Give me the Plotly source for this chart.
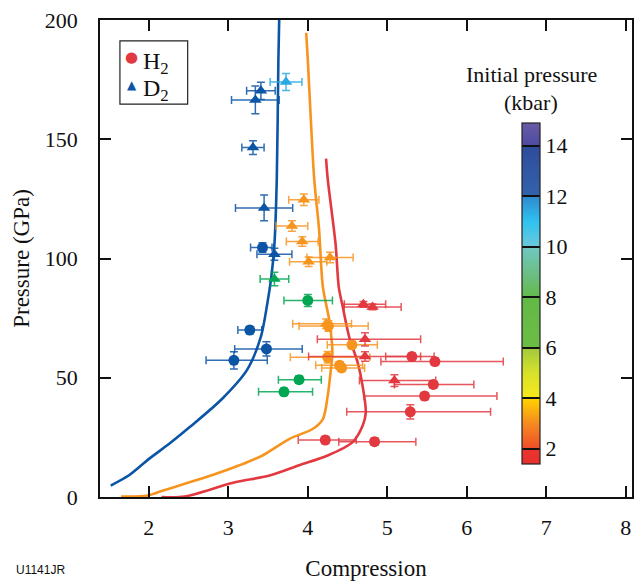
import plotly.graph_objects as go

# ---- model curves (compression vs pressure) ----
d2_curve_x = [1.52, 1.75, 2.01, 2.26, 2.51, 2.92, 3.24, 3.41, 3.49, 3.54, 3.58, 3.61, 3.63, 3.64]
d2_curve_p = [4.8, 9.1, 16.2, 22.4, 29.2, 41.1, 53.5, 67.2, 81.0, 92.1, 105.9, 133.6, 183.4, 200.0]

orange_curve_x = [1.65, 1.97, 2.18, 2.79, 3.14, 3.43, 3.77, 4.06, 4.19, 4.25, 4.29, 4.31, 4.27, 4.19, 4.14, 4.08, 4.00, 3.98]
orange_curve_p = [0.2, 0.5, 2.7, 9.1, 13.3, 17.4, 24.4, 28.5, 32.7, 42.3, 53.4, 60.3, 74.1, 88.0, 112.9, 133.6, 183.4, 194.6]

red_curve_x = [2.16, 2.45, 3.06, 3.53, 3.89, 4.25, 4.56, 4.69, 4.73, 4.69, 4.63, 4.52, 4.44, 4.39, 4.35, 4.25, 4.23]
red_curve_p = [0.0, 0.2, 6.0, 9.1, 13.3, 17.4, 22.9, 29.9, 35.4, 46.5, 56.1, 67.2, 79.7, 88.0, 105.9, 133.6, 141.9]

# ---- shock data ----
isotope = (["H2"] * 7 + ["H2"] * 5 + ["H2"] * 3 + ["H2"] * 4
           + ["D2"] * 5 + ["D2"] * 6 + ["D2"] * 1 + ["D2"] * 5 + ["D2"] * 1)
init_pressure = ([1.6] * 7 + [3] * 5 + [7] * 3 + [13] * 4
                 + [1.6] * 5 + [3] * 6 + [7] * 1 + [13] * 5 + [11] * 1)
compression = [5.31, 5.60, 5.58, 5.47, 5.29, 4.22, 4.84,
               4.26, 4.555, 4.25, 4.40, 4.425,
               4.00, 3.89, 3.70,
               3.43, 3.27, 3.48, 3.07,
               4.70, 4.815, 4.72, 4.72, 5.09,
               3.95, 3.80, 3.93, 4.28, 4.01, 4.23,
               3.58,
               3.41, 3.34, 3.31, 3.45, 3.58,
               3.726]
pressure = [58.9, 56.8, 47.2, 42.3, 35.7, 23.9, 23.2,
            71.7, 63.8, 58.6, 55.2, 54.1,
            82.4, 49.2, 44.1,
            104.6, 70.0, 62.1, 57.3,
            80.8, 79.7, 66.1, 58.9, 48.8,
            124.6, 113.6, 107.1, 100.4, 98.6, 72.6,
            91.4,
            170.3, 166.5, 146.5, 121.2, 101.8,
            174.0]
comp_err_lo = [0.33, 0.68, 0.49, 0.76, 0.80, 0.34, 0.45,
               0.37, 0.31, 0.47, 0.30, 0.25,
               0.30, 0.26, 0.32,
               0.15, 0.15, 0.40, 0.35,
               0.24, 0.36, 0.60, 0.71, 0.44,
               0.19, 0.20, 0.20, 0.29, 0.24, 0.42,
               0.18,
               0.18, 0.30, 0.14, 0.36, 0.22,
               0.20]
comp_err_hi = [0.28, 0.86, 0.51, 0.91, 1.01, 0.39, 0.52,
               0.50, 0.32, 0.53, 0.29, 0.29,
               0.31, 0.28, 0.36,
               0.12, 0.15, 0.45, 0.42,
               0.28, 0.36, 0.70, 0.70, 0.52,
               0.19, 0.20, 0.20, 0.29, 0.23, 0.32,
               0.18,
               0.18, 0.30, 0.14, 0.36, 0.22,
               0.20]
press_err = [1.5, 1.5, 1.5, 1.5, 3.0, 1.5, 1.5,
             2.2, 1.5, 2.4, 1.5, 1.5,
             2.5, 1.5, 1.5,
             2.0, 1.5, 3.0, 3.6,
             1.2, 1.2, 2.8, 2.0, 2.5,
             2.4, 2.2, 2.0, 2.2, 2.0, 2.0,
             2.8,
             3.6, 5.8, 2.9, 5.4, 2.5,
             3.6]

# marker colour for each initial-pressure group
group_colors = {1.6: (226, 56, 63), 3: (247, 148, 30), 7: (0, 166, 81),
                11: (40, 169, 225), 13: (12, 84, 164)}
symbols = {"H2": "circle", "D2": "triangle-up"}

# colour bar scale (kbar)
cbar_min, cbar_max = 1.4, 14.9
cbar_stops = [(1.4, "#e8302e"), (2.0, "#ea352d"), (2.02, "#ef4d28"), (3.0, "#f68a20"),
              (3.95, "#ffd000"), (4.02, "#f8e81c"), (5.0, "#d6e22a"), (5.98, "#a3c93c"),
              (6.05, "#6cbd45"), (8.0, "#62b946"), (8.05, "#64ba50"), (9.0, "#6cbf88"),
              (9.98, "#6fc7c2"), (10.05, "#68c9dc"), (11.0, "#2fc2ef"), (11.98, "#2f8ad0"),
              (12.05, "#3262ab"), (13.98, "#2f4c9c"), (14.05, "#4e4ca0"), (14.9, "#6a5aa8")]
cbar_ticks = [2, 4, 6, 8, 10, 12, 14]

SERIF = "Liberation Serif, Times New Roman, serif"

# plot-area geometry in pixels, used to place the key and colour-bar title
PL, PR, PT, PB = 100, 634, 20, 502


def px_x(px):
    return (px - PL) / (PR - PL)


def px_y(py):
    return (PB - py) / (PB - PT)


fig = go.Figure()

for cx, cp, col in [(d2_curve_x, d2_curve_p, "#0b55a6"),
                    (orange_curve_x, orange_curve_p, "#f7941d"),
                    (red_curve_x, red_curve_p, "#e2383f")]:
    fig.add_trace(go.Scatter(x=cx, y=cp, mode="lines", showlegend=False,
                             line=dict(color=col, width=2.6, shape="spline", smoothing=0.8),
                             hoverinfo="skip"))

for iso in ["H2", "D2"]:
    for p0 in [1.6, 3, 7, 13, 11]:
        idx = [i for i in range(len(isotope)) if isotope[i] == iso and init_pressure[i] == p0]
        if not idx:
            continue
        r, g, b = group_colors[p0]
        bar_col = f"rgba({r},{g},{b},0.85)"
        fig.add_trace(go.Scatter(
            x=[compression[i] for i in idx],
            y=[pressure[i] for i in idx],
            mode="markers", showlegend=False,
            marker=dict(symbol=symbols[iso], size=11, color=f"rgb({r},{g},{b})"),
            error_x=dict(type="data", symmetric=False,
                         array=[comp_err_hi[i] for i in idx],
                         arrayminus=[comp_err_lo[i] for i in idx],
                         color=bar_col, thickness=1.5, width=4),
            error_y=dict(type="data", array=[press_err[i] for i in idx],
                         color=bar_col, thickness=1.5, width=4),
        ))

# colour bar for the initial pressure
colorscale = [[(v - cbar_min) / (cbar_max - cbar_min), c] for v, c in cbar_stops]
fig.add_trace(go.Scatter(
    x=[None], y=[None], mode="markers", showlegend=False, hoverinfo="skip",
    marker=dict(color=[8], colorscale=colorscale, cmin=cbar_min, cmax=cbar_max,
                showscale=True,
                colorbar=dict(x=0.794, xanchor="left", xref="paper", xpad=0,
                              y=0.427, yanchor="middle", ypad=0,
                              len=0.714, lenmode="fraction",
                              thickness=18, thicknessmode="pixels",
                              outlinewidth=1.2, outlinecolor="#222",
                              tickvals=cbar_ticks, ticks="inside", ticklen=18,
                              tickwidth=1.5, tickcolor="#111",
                              tickfont=dict(family=SERIF, size=22, color="#111")))))

axis_common = dict(showgrid=False, zeroline=False, showline=True, linecolor="#111",
                   linewidth=1.5, mirror="ticks", ticks="inside", ticklen=11,
                   tickwidth=1.5, tickcolor="#111",
                   tickfont=dict(family=SERIF, size=22, color="#111"))

annotations = [
    # colour-bar title
    dict(text="Initial pressure", x=px_x(533), y=px_y(75)),
    dict(text="(kbar)", x=px_x(533), y=px_y(103)),
    # key: symbols and labels
    dict(text="●", x=px_x(132), y=px_y(57), font=dict(family="DejaVu Sans", size=15, color="#e2383f")),
    dict(text="▲", x=px_x(132), y=px_y(86), font=dict(family="DejaVu Sans", size=12, color="#0b55a6")),
    dict(text="H<sub>2</sub>", x=px_x(141), y=px_y(63), xanchor="left",
         font=dict(family=SERIF, size=24, color="#111")),
    dict(text="D<sub>2</sub>", x=px_x(141), y=px_y(91), xanchor="left",
         font=dict(family=SERIF, size=24, color="#111")),
]
for a in annotations:
    a.setdefault("xanchor", "center")
    a.setdefault("yanchor", "middle")
    a.setdefault("font", dict(family=SERIF, size=22, color="#111"))
    a.update(xref="paper", yref="paper", showarrow=False)

annotations.append(dict(text="U1141JR", x=px_x(14), y=px_y(567), xref="paper", yref="paper",
                        xanchor="left", yanchor="top", showarrow=False,
                        font=dict(family="Liberation Sans, Arial, sans-serif", size=12, color="#111")))

fig.update_layout(
    width=637, height=581,
    margin=dict(l=PL, r=637 - PR, t=PT, b=581 - PB),
    paper_bgcolor="white", plot_bgcolor="white",
    showlegend=False,
    xaxis=dict(range=[1.385, 8.08], tickvals=[2, 3, 4, 5, 6, 7, 8],
               ticklabelstandoff=10,
               title=dict(text="Compression", standoff=22,
                          font=dict(family=SERIF, size=23, color="#111")),
               **axis_common),
    yaxis=dict(range=[0, 200], tickvals=[0, 50, 100, 150, 200],
               ticklabelstandoff=16,
               title=dict(text="Pressure (GPa)", standoff=9,
                          font=dict(family=SERIF, size=23, color="#111")),
               **axis_common),
    annotations=annotations,
    shapes=[dict(type="rect", xref="paper", yref="paper",
                 x0=px_x(120), x1=px_x(188), y0=px_y(105), y1=px_y(41),
                 line=dict(color="#222", width=1.2), fillcolor="white", layer="above")],
)

fig.write_html("out.html")
